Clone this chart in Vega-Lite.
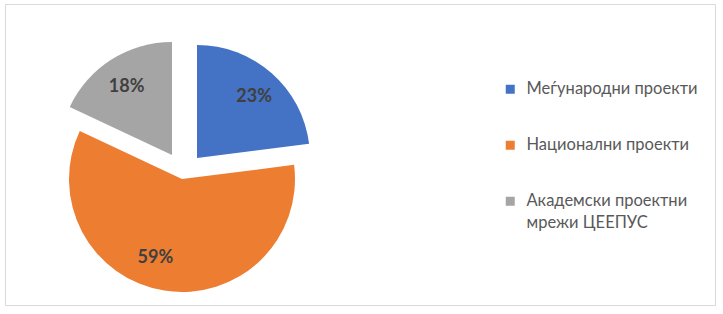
{
  "$schema": "https://vega.github.io/schema/vega-lite/v6.json",
  "autosize": {"type": "fit", "contains": "padding"},
  "width": 723,
  "height": 314,
  "padding": {"left": 5, "top": 4, "right": 8, "bottom": 9},
  "background": "white",
  "config": {
    "view": {"stroke": "#d9d9d9", "strokeWidth": 1},
    "font": "Lato",
    "style": {"guide-label": {"lineHeight": 22}},
    "legend": {
      "title": null,
      "symbolType": "square",
      "symbolSize": 81,
      "symbolStrokeWidth": 0,
      "symbolOpacity": 1,
      "labelFont": "Lato",
      "labelFontSize": 16.5,
      "labelColor": "#595959",
      "labelLimit": 400,
      "labelOffset": 8,
      "rowPadding": 39,
      "padding": 0,
      "labelBaseline": "middle"
    }
  },
  "data": {
    "values": [
      {"k": "Меѓународни проекти", "v": 0.23, "ord": 1},
      {"k": "Национални проекти", "v": 0.59, "ord": 2},
      {"k": "Академски проектни мрежи ЦЕЕПУС", "v": 0.18, "ord": 3}
    ]
  },
  "layer": [
    {
      "mark": {"type": "point", "opacity": 0},
      "encoding": {
        "x": {"field": "v", "type": "quantitative", "axis": null},
        "y": {"field": "v", "type": "quantitative", "axis": null}
      }
    },
    {
      "encoding": {
        "theta": {"field": "v", "type": "quantitative", "stack": true},
        "order": {"field": "ord", "type": "quantitative"},
        "color": {
          "field": "k",
          "type": "nominal",
          "scale": {
            "domain": ["Меѓународни проекти", "Национални проекти", "Академски проектни мрежи ЦЕЕПУС"],
            "range": ["#4472c4", "#ed7d31", "#a5a5a5"]
          },
          "legend": {
            "orient": "none",
            "legendX": 497,
            "legendY": 77,
            "labelExpr": "datum.label == 'Академски проектни мрежи ЦЕЕПУС' ? ['Академски проектни', 'мрежи ЦЕЕПУС'] : datum.label"
          }
        }
      },
      "layer": [
        {
          "mark": {"type": "arc", "outerRadius": 113, "x": 192, "y": 154},
          "encoding": {"opacity": {"condition": {"test": "datum.k == 'Меѓународни проекти'", "value": 1}, "value": 0}}
        },
        {
          "mark": {"type": "arc", "outerRadius": 113, "x": 177, "y": 175},
          "encoding": {"opacity": {"condition": {"test": "datum.k == 'Национални проекти'", "value": 1}, "value": 0}}
        },
        {
          "mark": {"type": "arc", "outerRadius": 113, "x": 167, "y": 151},
          "encoding": {"opacity": {"condition": {"test": "datum.k == 'Академски проектни мрежи ЦЕЕПУС'", "value": 1}, "value": 0}}
        },
        {
          "mark": {"type": "text", "radius": 81, "x": 192, "y": 154, "dx": 3.5, "dy": 0, "font": "Lato", "fontWeight": "bold", "fontSize": 18},
          "encoding": {
            "text": {"field": "v", "type": "quantitative", "format": ".0%"},
            "color": {"value": "#404040"},
            "opacity": {"condition": {"test": "datum.k == 'Меѓународни проекти'", "value": 1}, "value": 0}
          }
        },
        {
          "mark": {"type": "text", "radius": 81, "x": 177, "y": 175, "dx": -14, "dy": -1, "font": "Lato", "fontWeight": "bold", "fontSize": 18},
          "encoding": {
            "text": {"field": "v", "type": "quantitative", "format": ".0%"},
            "color": {"value": "#404040"},
            "opacity": {"condition": {"test": "datum.k == 'Национални проекти'", "value": 1}, "value": 0}
          }
        },
        {
          "mark": {"type": "text", "radius": 81, "x": 167, "y": 151, "dx": -2, "dy": 0, "font": "Lato", "fontWeight": "bold", "fontSize": 18},
          "encoding": {
            "text": {"field": "v", "type": "quantitative", "format": ".0%"},
            "color": {"value": "#404040"},
            "opacity": {"condition": {"test": "datum.k == 'Академски проектни мрежи ЦЕЕПУС'", "value": 1}, "value": 0}
          }
        }
      ]
    }
  ]
}
